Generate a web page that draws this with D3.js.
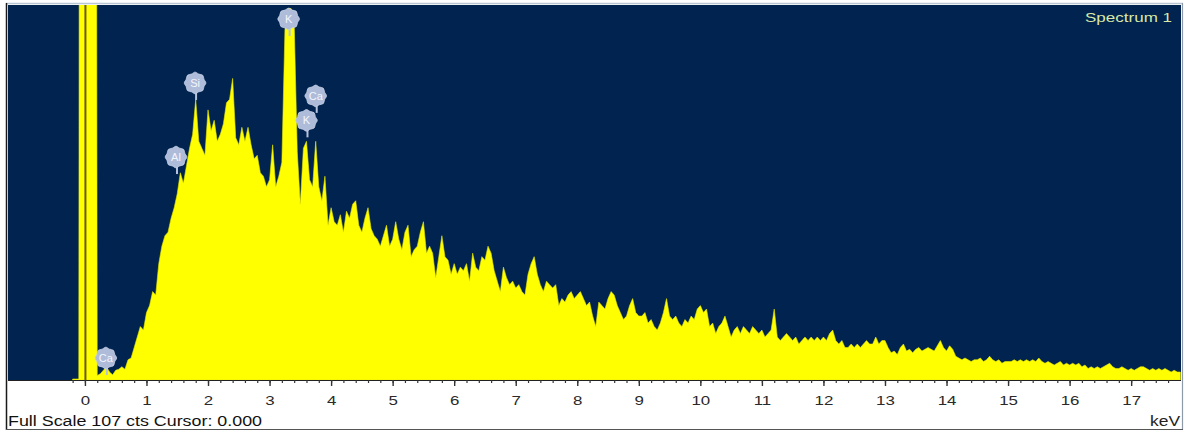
<!DOCTYPE html>
<html>
<head>
<meta charset="utf-8">
<script src="https://cdn.jsdelivr.net/npm/d3@7"></script>
<style>
  html, body { margin: 0; padding: 0; background: #ffffff; }
  svg { display: block; }
</style>
</head>
<body>
<svg id="chart" width="1187" height="434"></svg>
<script>
// EDS spectrum: channel calibration and counts per channel
const channelStart = -0.2;   // keV of first channel
const channelWidth = 0.05;   // keV per channel
const counts = [
  // -0.20 .. 0.20 (noise peak, off scale)
  0, 0, 0, 900, 1200, 1250, 1150, 650, 1,
  // 0.25 .. 1.00
  1.5, 2.5, 3.5, 2, 1.2, 2.5, 2.8, 3.5, 2.8, 5.5, 6, 9, 12, 15, 14, 19,
  // 1.05 .. 2.00
  21, 25, 24, 33, 38, 41, 42, 46, 49, 53, 59, 56, 61, 66, 70, 80, 68, 66, 64, 77,
  // 2.05 .. 3.00
  71, 74, 68, 70, 73, 79, 80, 86, 69, 67, 72, 68, 72, 67, 63, 64, 59, 58, 55, 57,
  // 3.05 .. 4.00
  67, 55, 58, 62, 100, 106, 106, 102, 65, 50, 66, 68, 57, 55, 68, 55, 51, 58, 44, 49,
  // 4.05 .. 5.00
  45, 44, 47, 42, 48, 46, 50, 51, 44, 42, 46, 49, 43, 41, 40, 38, 41, 44, 38, 40,
  // 5.05 .. 6.00
  45, 40, 37, 42, 44, 35, 37, 38, 42, 45, 36, 38, 36, 29, 35, 41, 35, 34, 30, 33,
  // 6.05 .. 7.00
  30, 32, 31, 33, 28, 36, 32, 31, 35, 34, 38, 36, 31, 28, 25, 32, 29, 27, 28, 26,
  // 7.05 .. 8.00
  27, 25, 24, 30, 33, 35, 30, 27, 25, 28, 27, 26, 27, 21, 23, 22, 24, 25, 23, 24,
  // 8.05 .. 9.00
  25, 23, 21, 22, 18, 15, 22, 21, 20, 23, 25, 24, 21, 19, 17, 18, 21, 23, 19, 18,
  // 9.05 .. 10.00
  18, 19, 16, 17, 15, 14, 16, 19, 23, 18, 17, 18, 16, 15, 17, 16, 18, 17, 20, 21,
  // 10.05 .. 11.00
  19, 20, 15, 16, 13, 15, 16, 18, 15, 12, 14, 15, 13, 15, 14, 13, 15, 14, 13, 14,
  // 11.05 .. 12.00
  12, 13, 14, 20, 12, 11, 12, 13, 12, 11, 12, 10, 11, 12, 11, 12, 11, 12, 11, 12,
  // 12.05 .. 13.00
  11, 13, 14, 11, 10, 11, 9, 9, 10, 9, 10, 9, 10, 11, 10, 10, 12, 10, 11, 11,
  // 13.05 .. 14.00
  9, 7.5, 8, 7, 9, 10, 8, 8.5, 7.5, 8.5, 9, 8, 8.5, 9, 8.5, 8, 9.5, 11, 9, 8,
  // 14.05 .. 15.00
  9.5, 8.5, 6.5, 6, 5.5, 6, 5.5, 5, 5.5, 5.5, 6, 5, 5.5, 6.5, 5.5, 5, 5.5, 4.5, 5, 5,
  // 15.05 .. 16.00
  5, 5.5, 5, 5.5, 5, 5.5, 5, 5.5, 5, 6, 5, 4.5, 5, 4.5, 4, 4.5, 5, 4, 4.5, 4,
  // 16.05 .. 17.00
  4.5, 4, 4.5, 3.5, 4, 3, 3.5, 3, 3.5, 3, 3.5, 4, 4.5, 3.5, 3, 3, 3.5, 3, 2.5, 3,
  // 17.05 .. 17.80
  2.5, 3, 3.5, 3.5, 3, 2.5, 3, 2.5, 3, 2.5, 3, 2.5, 2, 2.5, 2, 2
];

const fullScale = 107;        // cts at top of the display
const cursorKeV = 0.000;
const energyRange = [-1.25, 17.81];
const majorTicks = [0, 1, 2, 3, 4, 5, 6, 7, 8, 9, 10, 11, 12, 13, 14, 15, 16, 17];
const minorTicks = d3.range(-0.2, 17.7, 0.2);

// Identified lines: symbol, energy (keV), marker height (cts)
const lineNames = ["Ca", "Al", "Si", "K", "K", "Ca"];
const lineKeV   = [0.34, 1.48, 1.79, 3.31, 3.60, 3.75];
const markerCts = [6, 63.5, 84.7, 103, 74, 81];

const spectrumName = "Spectrum 1";

// ---- layout ----
const svg = d3.select("#chart");
const plot = { left: 8, right: 1181, top: 5, bottom: 379 };
const stretch = 1.25; // horizontal glyph stretch of the display fonts

const x = d3.scaleLinear().domain(energyRange).range([plot.left, plot.right]);
const y = d3.scaleLinear().domain([0, fullScale]).range([plot.bottom, plot.top]);

// outer panel
svg.append("rect").attr("x", 0).attr("y", 0).attr("width", 1187).attr("height", 434).attr("fill", "#ffffff");
svg.append("line").attr("x1", 6).attr("x2", 1183).attr("y1", 3.5).attr("y2", 3.5)
  .attr("stroke", "#b9c6d4").attr("stroke-width", 1.5);
svg.append("line").attr("x1", 6.5).attr("x2", 6.5).attr("y1", 3).attr("y2", 430)
  .attr("stroke", "#1a1a1a").attr("stroke-width", 1.5);
svg.append("line").attr("x1", 1182.5).attr("x2", 1182.5).attr("y1", 3).attr("y2", 430)
  .attr("stroke", "#8e9aa8").attr("stroke-width", 1.2);
svg.append("line").attr("x1", 6).attr("x2", 1183).attr("y1", 429.5).attr("y2", 429.5)
  .attr("stroke", "#555555").attr("stroke-width", 1.2);

// plot background
svg.append("rect")
  .attr("x", plot.left).attr("y", plot.top)
  .attr("width", plot.right - plot.left).attr("height", plot.bottom - plot.top + 1)
  .attr("fill", "#00234f");

svg.append("clipPath").attr("id", "plotClip")
  .append("rect")
  .attr("x", plot.left).attr("y", plot.top)
  .attr("width", plot.right - plot.left).attr("height", plot.bottom - plot.top + 1);

const g = svg.append("g").attr("clip-path", "url(#plotClip)");

// spectrum fill
const area = d3.area()
  .x((d, i) => x(channelStart + i * channelWidth))
  .y0(y(0) + 1)
  .y1(d => y(d))
  .curve(d3.curveLinear);

g.append("path")
  .datum(counts)
  .attr("d", area)
  .attr("fill", "#ffff00")
  .attr("stroke", "#e8e800")
  .attr("stroke-width", 0.6)
  .attr("stroke-linejoin", "round");

// cursor
g.append("line")
  .attr("x1", x(cursorKeV) + 0.5).attr("x2", x(cursorKeV) + 0.5)
  .attr("y1", plot.top).attr("y2", plot.bottom + 1)
  .attr("stroke", "#6a5c08").attr("stroke-width", 2);

// line markers
const gear = d3.lineRadial()
  .curve(d3.curveCardinalClosed)
  .angle(d => d[0])
  .radius(d => d[1]);
const gearPts = d3.range(16).map(k => [k * Math.PI * 2 / 16, k % 2 ? 9.6 : 10.8]);

const markers = g.selectAll("g.marker")
  .data(lineNames.map((name, i) => ({ name, kev: lineKeV[i], cts: markerCts[i] })))
  .join("g")
  .attr("class", "marker")
  .attr("transform", d => `translate(${x(d.kev)},${y(d.cts)})`);

markers.append("line")
  .attr("x1", 1).attr("x2", 1).attr("y1", 8).attr("y2", 17)
  .attr("stroke", "#b4c2de").attr("stroke-width", 2);

markers.append("path")
  .attr("d", gear(gearPts))
  .attr("fill", "#aebbd9")
  .attr("stroke", "#c9d3ea")
  .attr("stroke-width", 0.8);

markers.append("text")
  .text(d => d.name)
  .attr("text-anchor", "middle")
  .attr("dy", "0.36em")
  .attr("font-family", "Liberation Sans, Arial, sans-serif")
  .attr("font-size", 11)
  .attr("fill", "#f3f6fc");

// spectrum name
svg.append("text")
  .attr("x", 1172).attr("y", 22)
  .attr("text-anchor", "end")
  .attr("font-family", "Liberation Sans, Arial, sans-serif")
  .attr("font-size", 13)
  .attr("fill", "#d9e8a6")
  .attr("textLength", 87)
  .attr("lengthAdjust", "spacingAndGlyphs")
  .text(spectrumName);

// energy axis
const axisY = plot.bottom + 1;
svg.append("line")
  .attr("x1", plot.left).attr("x2", plot.right)
  .attr("y1", axisY + 0.5).attr("y2", axisY + 0.5)
  .attr("stroke", "#222222").attr("stroke-width", 1.2);

const minorAxis = d3.axisBottom(x).tickValues(minorTicks).tickSize(3).tickFormat("");
svg.append("g").attr("transform", `translate(0,${axisY})`).call(minorAxis)
  .call(a => a.select(".domain").remove())
  .call(a => a.selectAll("line").attr("stroke", "#333333").attr("stroke-width", 1.2));

const majorAxis = d3.axisBottom(x).tickValues(majorTicks).tickSize(6).tickPadding(9)
  .tickFormat(d3.format("d"));
svg.append("g").attr("transform", `translate(0,${axisY})`).call(majorAxis)
  .call(a => a.select(".domain").remove())
  .call(a => a.selectAll("line").attr("stroke", "#333333").attr("stroke-width", 1.4))
  .call(a => a.selectAll("text")
    .attr("font-family", "Liberation Sans, Arial, sans-serif")
    .attr("font-size", 13.5)
    .attr("fill", "#2a2a2a")
    .attr("transform", `scale(${stretch},1)`));

// status line
svg.append("text")
  .attr("x", 8).attr("y", 426)
  .attr("font-family", "Liberation Sans, Arial, sans-serif")
  .attr("font-size", 14)
  .attr("fill", "#111111")
  .attr("textLength", 254)
  .attr("lengthAdjust", "spacingAndGlyphs")
  .text(`Full Scale ${fullScale} cts Cursor: ${cursorKeV.toFixed(3)}`);

svg.append("text")
  .attr("x", 1180).attr("y", 426)
  .attr("text-anchor", "end")
  .attr("font-family", "Liberation Sans, Arial, sans-serif")
  .attr("font-size", 14)
  .attr("fill", "#222222")
  .attr("textLength", 30)
  .attr("lengthAdjust", "spacingAndGlyphs")
  .text("keV");
</script>
</body>
</html>
